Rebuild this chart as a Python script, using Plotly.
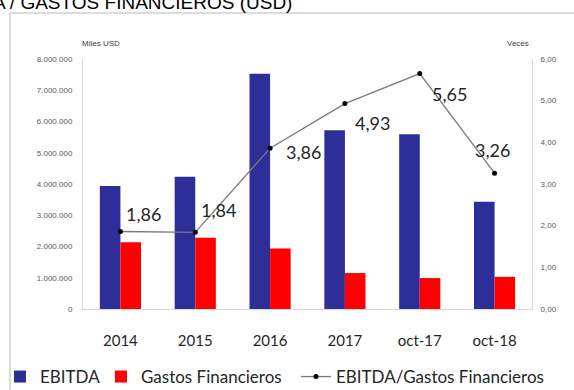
import plotly.graph_objects as go

# Periods and series
categories = ["2014", "2015", "2016", "2017", "oct-17", "oct-18"]
ebitda = [3940000, 4230000, 7530000, 5720000, 5590000, 3430000]          # Miles USD
gastos_fin = [2140000, 2280000, 1940000, 1150000, 990000, 1030000]      # Miles USD
cobertura = [1.86, 1.84, 3.86, 4.93, 5.65, 3.26]                        # Veces

left_ticks = [0, 1000000, 2000000, 3000000, 4000000, 5000000, 6000000, 7000000, 8000000]
right_ticks = [0, 1, 2, 3, 4, 5, 6]

# Pixel geometry of the plot area inside the 574x390 page
W, H = 574, 390
L, R, T, B = 83, 532, 59, 309
pw, ph = R - L, B - T


def px_x(p):
    return (p - L) / pw


def px_y(p):
    return (B - p) / ph


BLUE = "#2E2E98"
RED = "#FF0000"
AXIS = "#D9D9D9"
FONT = "Lato"

fig = go.Figure()
fig.add_trace(go.Bar(x=categories, y=ebitda, name="EBITDA", marker_color=BLUE,
                     marker_line_width=0, legend="legend"))
fig.add_trace(go.Bar(x=categories, y=gastos_fin, name="Gastos Financieros",
                     marker_color=RED, marker_line_width=0, legend="legend2"))
fig.add_trace(go.Scatter(x=categories, y=cobertura, name="EBITDA/Gastos Financieros",
                         yaxis="y2", mode="lines+markers",
                         line=dict(color="#7A7A7A", width=1.3),
                         marker=dict(color="#000000", size=5, symbol="circle"),
                         legend="legend3"))

# Data label offsets (pixels, relative to each point); category axis uses serial positions
label_shift = [(23, 18), (23, 22), (33, -4), (28, -19), (30, -20), (-2, 23)]
annotations = []
for i, (v, (dx, dy)) in enumerate(zip(cobertura, label_shift)):
    annotations.append(dict(x=i, y=v, xref="x", yref="y2", showarrow=False,
                            text=f"{v:.2f}".replace(".", ","), xshift=dx, yshift=dy,
                            font=dict(family=FONT, size=18, color="#262626")))

# Axis titles
annotations.append(dict(x=px_x(80), y=px_y(37), xref="paper", yref="paper", showarrow=False,
                        text="Miles USD", font=dict(family="Liberation Sans", size=8, color="#404040")))
annotations.append(dict(x=px_x(531), y=px_y(37), xref="paper", yref="paper", showarrow=False,
                        text="Veces", font=dict(family="Liberation Sans", size=8, color="#404040")))
# Chart title (runs off the top-left edge)
annotations.append(dict(x=px_x(294), y=px_y(2), xref="paper", yref="paper", showarrow=False,
                        xanchor="right", yanchor="middle",
                        text="EBITDA / GASTOS FINANCIEROS (USD)",
                        font=dict(family="Liberation Sans", size=19, color="#000000")))

shapes = [
    # outer frame (left and top edges)
    dict(type="line", xref="paper", yref="paper", x0=px_x(10), x1=px_x(10),
         y0=px_y(13), y1=px_y(392), line=dict(color="#D0D0D0", width=1.5)),
    dict(type="line", xref="paper", yref="paper", x0=px_x(10), x1=px_x(576),
         y0=px_y(13), y1=px_y(13), line=dict(color="#D0D0D0", width=1.5)),
]


def legend_box(left_px):
    # one legend entry per box, laid out along the bottom row
    return dict(orientation="h", xref="container", x=left_px / W, xanchor="left",
                yref="container", y=1 - 377 / H, yanchor="middle",
                font=dict(family=FONT, size=17, color="#262626"),
                bgcolor="rgba(0,0,0,0)", itemwidth=30)


fig.update_layout(
    width=W, height=H,
    margin=dict(l=L, r=W - R, t=T, b=H - B, pad=0, autoexpand=False),
    paper_bgcolor="white", plot_bgcolor="white",
    separators=",.",
    barmode="group", bargap=0.45, bargroupgap=0,
    font=dict(family=FONT, color="#262626"),
    xaxis=dict(type="category", range=[-0.5, 5.5], showgrid=False, showline=True,
               linecolor=AXIS, linewidth=1, ticks="", ticklabelstandoff=18,
               tickfont=dict(family=FONT, size=15, color="#262626")),
    yaxis=dict(range=[0, 8000000], tickvals=left_ticks, tickformat=",d",
               showgrid=False, zeroline=False, showline=True, linecolor=AXIS,
               linewidth=1, ticks="", ticklabelstandoff=8,
               tickfont=dict(family="Liberation Sans", size=8, color="#595959")),
    yaxis2=dict(range=[0, 6], tickvals=right_ticks, tickformat=".2f",
                overlaying="y", side="right", showgrid=False, zeroline=False,
                showline=True, linecolor=AXIS, linewidth=1, ticks="",
                ticklabelstandoff=6,
                tickfont=dict(family="Liberation Sans", size=8, color="#595959")),
    legend=legend_box(0),
    legend2=legend_box(101),
    legend3=legend_box(296),
    annotations=annotations,
    shapes=shapes,
    showlegend=True,
)

fig.write_html("out.html")
